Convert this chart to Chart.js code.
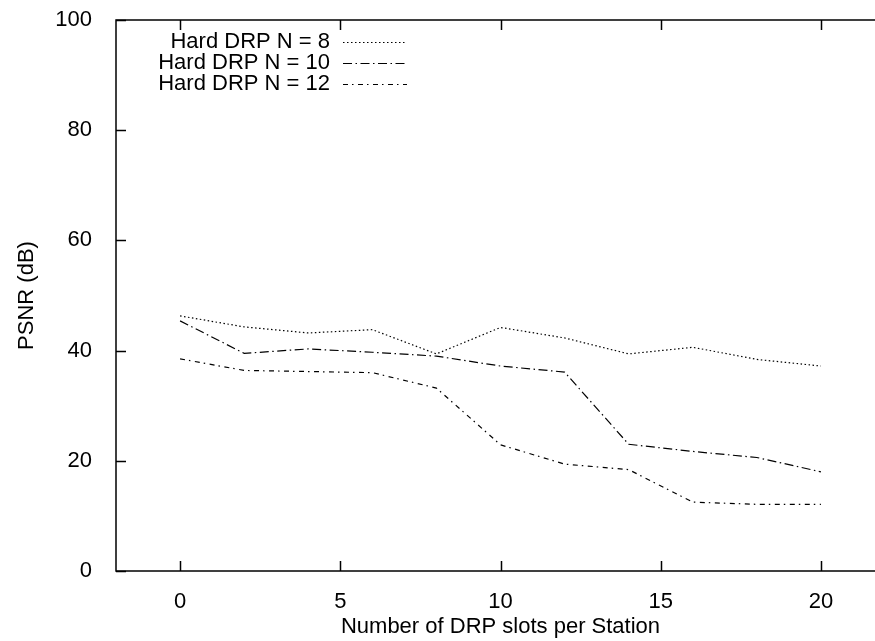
<!DOCTYPE html>
<html>
<head>
<meta charset="utf-8">
<style>
  html, body { margin: 0; padding: 0; background: #fff; overflow: hidden; }
  #wrap { width: 900px; height: 641px; }
</style>
<script src="https://cdn.jsdelivr.net/npm/chart.js@4.4.1/dist/chart.umd.min.js"></script>
</head>
<body>
<div id="wrap"><canvas id="myChart" width="900" height="641"></canvas></div>
<script>
// values
var slots = [0, 2, 4, 6, 8, 10, 12, 14, 16, 18, 20];
var psnrN8  = [46.3, 44.3, 43.2, 43.8, 39.4, 44.2, 42.3, 39.4, 40.6, 38.4, 37.2];
var psnrN10 = [45.4, 39.5, 40.3, 39.7, 39.0, 37.2, 36.1, 23.0, 21.7, 20.6, 18.0];
var psnrN12 = [38.5, 36.4, 36.2, 36.0, 33.2, 22.9, 19.4, 18.4, 12.5, 12.1, 12.1];
var seriesNames = ['Hard DRP N = 8', 'Hard DRP N = 10', 'Hard DRP N = 12'];
var xTicks = [0, 5, 10, 15, 20];
var yTicks = [0, 20, 40, 60, 80, 100];

var fontFamily = '"Liberation Sans", Arial, Helvetica, sans-serif';

function pts(ys) {
    return slots.map(function(x, i) { return {x: x, y: ys[i]}; });
}

// box, inward ticks on all four sides, and the gnuplot style key
var frameAndKey = {
    id: 'frameAndKey',
    afterDatasetsDraw: function(chart) {
        var ctx = chart.ctx;
        var a = chart.chartArea;
        var xs = chart.scales.x, ys = chart.scales.y;
        var tl = 10;
        ctx.save();
        ctx.strokeStyle = '#000';
        ctx.lineWidth = 1.5;
        ctx.setLineDash([]);
        ctx.strokeRect(a.left, a.top, a.right - a.left, a.bottom - a.top);
        ctx.beginPath();
        xTicks.forEach(function(v) {
            var px = Math.round(xs.getPixelForValue(v)) + 0.5;
            ctx.moveTo(px, a.bottom); ctx.lineTo(px, a.bottom - tl);
            ctx.moveTo(px, a.top); ctx.lineTo(px, a.top + tl);
        });
        yTicks.forEach(function(v) {
            var py = Math.round(ys.getPixelForValue(v)) + 0.5;
            ctx.moveTo(a.left, py); ctx.lineTo(a.left + tl, py);
            ctx.moveTo(a.right, py); ctx.lineTo(a.right - tl, py);
        });
        ctx.stroke();

        // key
        ctx.font = '22px ' + fontFamily;
        ctx.fillStyle = '#000';
        ctx.textAlign = 'right';
        ctx.textBaseline = 'middle';
        chart.data.datasets.forEach(function(ds, i) {
            var y = 42 + i * 21;
            ctx.fillText(ds.label, 330, y);
            ctx.beginPath();
            ctx.lineWidth = ds.borderWidth;
            ctx.setLineDash(ds.borderDash);
            ctx.moveTo(343, y + 0.5);
            ctx.lineTo(407, y + 0.5);
            ctx.stroke();
        });
        ctx.restore();
    }
};

var ctx = document.getElementById('myChart').getContext('2d');
var myChart = new Chart(ctx, {
    type: 'line',
    data: {
        datasets: [{
            label: seriesNames[0],
            data: pts(psnrN8),
            borderColor: '#000',
            borderWidth: 1.2,
            borderDash: [1.5, 2.5],
            pointRadius: 0,
            tension: 0,
            fill: false
        }, {
            label: seriesNames[1],
            data: pts(psnrN10),
            borderColor: '#000',
            borderWidth: 1.2,
            borderDash: [9, 3.5, 1.5, 3.5],
            pointRadius: 0,
            tension: 0,
            fill: false
        }, {
            label: seriesNames[2],
            data: pts(psnrN12),
            borderColor: '#000',
            borderWidth: 1.2,
            borderDash: [5, 4, 1.5, 4.5],
            pointRadius: 0,
            tension: 0,
            fill: false
        }]
    },
    options: {
        responsive: false,
        animation: false,
        devicePixelRatio: 1,
        // canvas is wider than the window: the plot box runs past the right edge, as in the original
        layout: { padding: { top: 20, right: 15, left: 0, bottom: 0 } },
        plugins: {
            legend: { display: false },
            tooltip: { enabled: false }
        },
        scales: {
            x: {
                type: 'linear',
                min: -2,
                max: 22,
                grid: { display: false },
                border: { display: false },
                afterBuildTicks: function(s) { s.ticks = xTicks.map(function(v) { return {value: v}; }); },
                afterFit: function(s) { s.height = 70; s.paddingLeft = 0; s.paddingRight = 0; },
                ticks: {
                    color: '#000',
                    padding: 10,
                    font: { family: fontFamily, size: 22 }
                },
                title: {
                    display: true,
                    text: 'Number of DRP slots per Station',
                    color: '#000',
                    padding: { top: 0, bottom: 1 },
                    font: { family: fontFamily, size: 22 }
                }
            },
            y: {
                min: 0,
                max: 100,
                grid: { display: false },
                border: { display: false },
                afterBuildTicks: function(s) { s.ticks = yTicks.map(function(v) { return {value: v}; }); },
                afterFit: function(s) { s.width = 116; s.paddingTop = 0; s.paddingBottom = 0; },
                ticks: {
                    color: '#000',
                    padding: 16,
                    font: { family: fontFamily, size: 22 }
                },
                title: {
                    display: true,
                    text: 'PSNR (dB)',
                    color: '#000',
                    padding: { top: 14, bottom: 0 },
                    font: { family: fontFamily, size: 22 }
                }
            }
        }
    },
    plugins: [frameAndKey]
});
</script>
</body>
</html>
